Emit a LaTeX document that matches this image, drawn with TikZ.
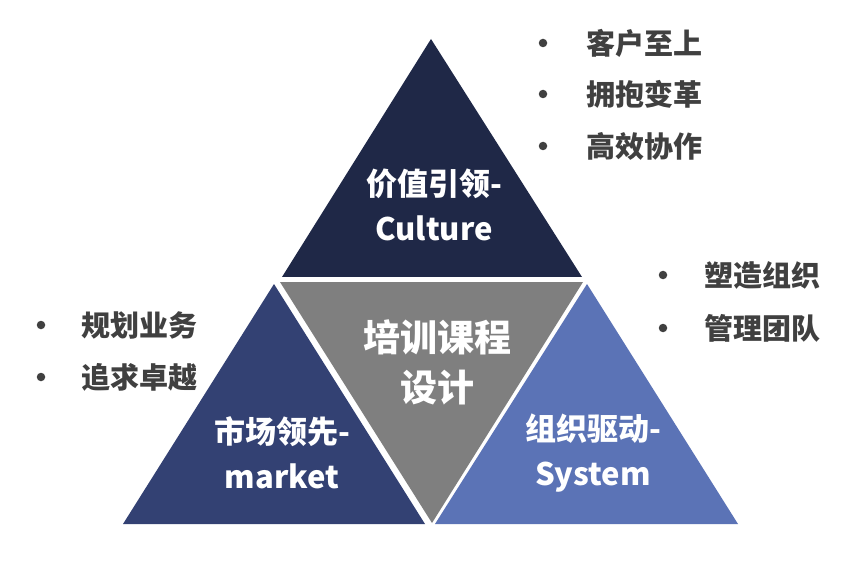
\documentclass[tikz,border=0pt]{standalone}
\usepackage{fontspec}
\newfontfamily\cjk{Noto Sans CJK SC}
\definecolor{topc}{RGB}{31,40,71}
\definecolor{leftc}{RGB}{51,65,115}
\definecolor{rightc}{RGB}{91,115,182}
\definecolor{grayc}{RGB}{127,127,127}
\definecolor{txtc}{RGB}{64,64,64}
\begin{document}
\begin{tikzpicture}[x=1pt,y=-1pt,
  lbl/.style={text=white,font=\cjk\bfseries\fontsize{31}{45}\selectfont,align=center,inner sep=0pt},
  ctr/.style={text=white,font=\cjk\bfseries\fontsize{37}{50}\selectfont,align=center,inner sep=0pt},
  item/.style={text=txtc,font=\cjk\bfseries\fontsize{29}{30}\selectfont,anchor=west,inner sep=0pt},
  dot/.style={circle,fill=txtc,minimum size=8.5pt,inner sep=0pt}]
\useasboundingbox (0,0) rectangle (857,580);
\fill[white] (0,0) rectangle (857,580);
% triangles
\fill[topc] (431,39) -- (282,277) -- (582,277) -- cycle;
\fill[grayc] (280,282) -- (583,282) -- (432,523) -- cycle;
\fill[leftc] (274,284) -- (123,524) -- (425,524) -- cycle;
\fill[rightc] (587,284) -- (435,524) -- (738,524) -- cycle;
% labels
\node[lbl] (culture) at (434,205) {价值引领-\\Culture};
\node[ctr] (center) at (437,362) {培训课程\\设计};
\node[lbl] (market) at (282,453) {市场领先-\\market};
\node[lbl] (system) at (593,453) {组织驱动-\\System};
% bullets top
\node[dot] (d1) at (543,43) {};
\node[item] (t1) at (586,43) {客户至上};
\node[dot] (d2) at (543,94) {};
\node[item] (t2) at (586,94) {拥抱变革};
\node[dot] (d3) at (543,146) {};
\node[item] (t3) at (586,146) {高效协作};
% bullets left
\node[dot] (d4) at (41,325) {};
\node[item] (t4) at (81,325) {规划业务};
\node[dot] (d5) at (41,377) {};
\node[item] (t5) at (81,377) {追求卓越};
% bullets right
\node[dot] (d6) at (663,275) {};
\node[item] (t6) at (704,275) {塑造组织};
\node[dot] (d7) at (663,328) {};
\node[item] (t7) at (704,328) {管理团队};
\end{tikzpicture}
\end{document}
